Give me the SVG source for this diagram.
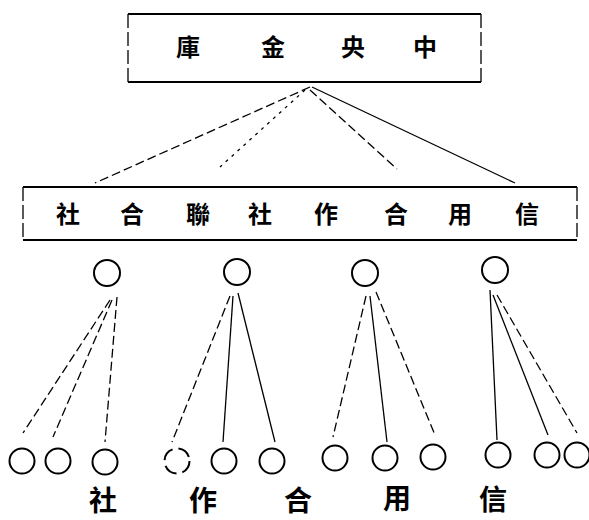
<svg xmlns="http://www.w3.org/2000/svg" width="589" height="520" viewBox="0 0 589 520">
<style>
.h{stroke:#000;stroke-width:2.2;fill:none}
.v{stroke:#000;stroke-width:1.3;fill:none;stroke-dasharray:14 4}
.t{font-family:"Liberation Serif","Noto Sans CJK TC",serif;font-weight:bold;fill:#000;text-anchor:middle;dominant-baseline:central}
.t1{font-size:24px}
.t2{font-size:24px}
.t3{font-size:28px}
.c{fill:none;stroke:#000;stroke-width:2}
.l{stroke:#000;stroke-width:1.3;fill:none}
.d{stroke-dasharray:9 4}
.d2{stroke-dasharray:3 5}
</style>
<rect width="589" height="520" fill="#fff"/>
<g id="connectors">
<line class="l d" x1="310" y1="87" x2="95" y2="183"/>
<line class="l d2" x1="305" y1="90" x2="220" y2="167"/>
<line class="l d" x1="310" y1="90" x2="397" y2="169"/>
<line class="l" x1="312" y1="87" x2="515" y2="183"/>
<line class="l d" x1="110" y1="300" x2="23" y2="433"/>
<line class="l d" x1="112" y1="300" x2="53" y2="437"/>
<line class="l d" x1="117" y1="297" x2="105" y2="442"/>
<line class="l d" x1="230" y1="296" x2="172" y2="442"/>
<line class="l" x1="233" y1="296" x2="223" y2="442"/>
<line class="l" x1="238" y1="293" x2="275" y2="442"/>
<line class="l d" x1="366" y1="296" x2="333" y2="437"/>
<line class="l" x1="370" y1="296" x2="387" y2="442"/>
<line class="l d" x1="376" y1="292" x2="435" y2="435"/>
<line class="l" x1="490" y1="290" x2="497" y2="440"/>
<line class="l" x1="493" y1="295" x2="548" y2="435"/>
<line class="l d" x1="497" y1="295" x2="577" y2="433"/>
</g>
<g id="central-treasury">
<line class="h" x1="128" y1="14" x2="481" y2="14"/>
<line class="h" x1="128" y1="82" x2="481" y2="82"/>
<line class="v" x1="128" y1="14" x2="128" y2="82"/>
<line class="v" x1="481" y1="14" x2="481" y2="82"/>
<text class="t t1" x="188" y="48">庫</text>
<text class="t t1" x="273" y="48">金</text>
<text class="t t1" x="353" y="48">央</text>
<text class="t t1" x="425" y="48">中</text>
</g>
<g id="federation">
<line class="h" x1="23" y1="187" x2="577" y2="187"/>
<line class="h" x1="23" y1="240" x2="577" y2="240"/>
<line class="v" x1="23" y1="187" x2="23" y2="240"/>
<line class="v" x1="577" y1="187" x2="577" y2="240"/>
<text class="t t2" x="68" y="215">社</text>
<text class="t t2" x="132" y="215">合</text>
<text class="t t2" x="198" y="215">聯</text>
<text class="t t2" x="260" y="215">社</text>
<text class="t t2" x="326" y="215">作</text>
<text class="t t2" x="396" y="215">合</text>
<text class="t t2" x="460" y="215">用</text>
<text class="t t2" x="527" y="215">信</text>
</g>
<g id="mid-1"><circle class="c" cx="107" cy="273" r="13"/></g>
<g id="mid-2"><circle class="c" cx="237" cy="272" r="13"/></g>
<g id="mid-3"><circle class="c" cx="365" cy="273" r="13"/></g>
<g id="mid-4"><circle class="c" cx="495" cy="270" r="13"/></g>
<g id="b1"><circle class="c" cx="22" cy="461" r="12.5"/></g>
<g id="b2"><circle class="c" cx="58" cy="461" r="12.5"/></g>
<g id="b3"><circle class="c" cx="105" cy="462" r="12.5"/></g>
<g id="b4"><circle class="c" cx="177" cy="461" r="12.5" stroke-dasharray="14 6"/></g>
<g id="b5"><circle class="c" cx="224" cy="461" r="12.5"/></g>
<g id="b6"><circle class="c" cx="272" cy="461" r="12.5"/></g>
<g id="b7"><circle class="c" cx="335" cy="458" r="12.5"/></g>
<g id="b8"><circle class="c" cx="385" cy="458" r="12.5"/></g>
<g id="b9"><circle class="c" cx="433" cy="457" r="12.5"/></g>
<g id="b10"><circle class="c" cx="498" cy="455" r="12.5"/></g>
<g id="b11"><circle class="c" cx="547" cy="455" r="12.5"/></g>
<g id="b12"><circle class="c" cx="577" cy="455" r="12.5"/></g>
<g id="bottom-label">
<text class="t t3" x="103" y="501">社</text>
<text class="t t3" x="203" y="501">作</text>
<text class="t t3" x="298" y="501">合</text>
<text class="t t3" x="397" y="499">用</text>
<text class="t t3" x="493" y="500">信</text>
</g>
</svg>
